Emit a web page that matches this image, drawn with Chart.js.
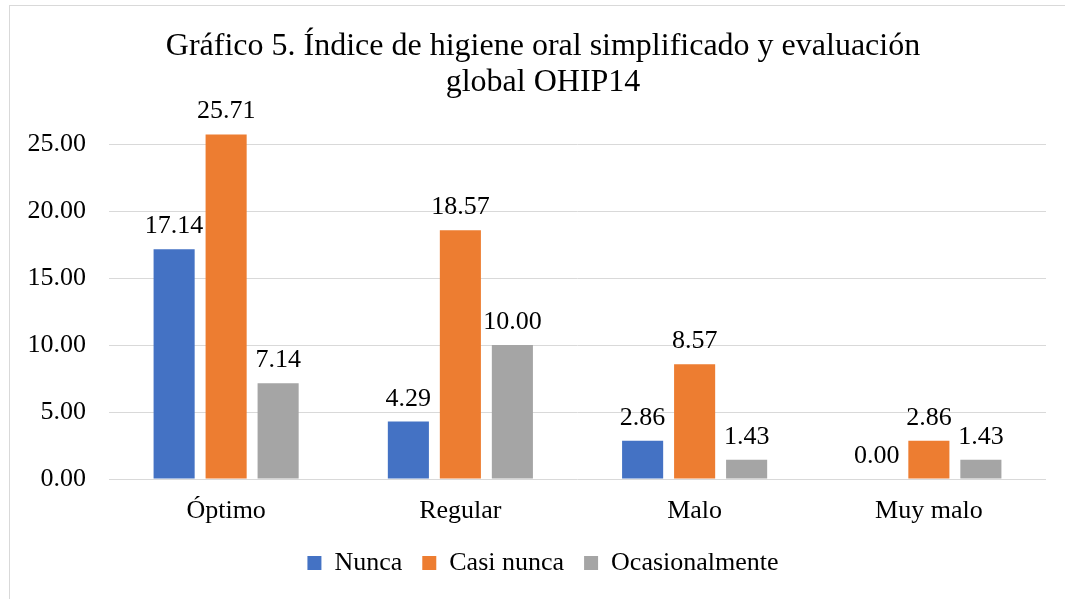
<!DOCTYPE html>
<html>
<head>
<meta charset="utf-8">
<script src="https://cdn.jsdelivr.net/npm/chart.js@4.4.0/dist/chart.umd.min.js"></script>
<style>
  html, body { margin: 0; padding: 0; background: #fff; }
  #wrap { position: relative; width: 1065px; height: 599px; overflow: hidden; }
  #marco { position: absolute; left: 9px; top: 5px; width: 1065px; height: 600px;
           border: 1px solid #d9d9d9; pointer-events: none; }
</style>
</head>
<body>
<div id="wrap">
  <canvas id="grafico5" width="1065" height="599"></canvas>
  <div id="marco"></div>
</div>
<script>
// datos del gráfico
const categorias = ["Óptimo", "Regular", "Malo", "Muy malo"];
const nunca = [17.14, 4.29, 2.86, 0.00];
const casiNunca = [25.71, 18.57, 8.57, 2.86];
const ocasionalmente = [7.14, 10.00, 1.43, 1.43];
const marcasY = [0, 5, 10, 15, 20, 25];

const fuente = "'Liberation Serif', 'Times New Roman', serif";

// etiquetas de valor encima de cada barra
const etiquetas = {
  id: 'etiquetas',
  afterLayout(chart) {
    // que las etiquetas del eje y no se recorten por el margen izquierdo
    chart.scales.y.left = 0;
  },
  afterDatasetsDraw(chart) {
    const ctx = chart.ctx;
    ctx.save();
    ctx.font = '26px ' + fuente;
    ctx.fillStyle = '#000';
    ctx.textAlign = 'center';
    ctx.textBaseline = 'alphabetic';
    chart.data.datasets.forEach((ds, i) => {
      chart.getDatasetMeta(i).data.forEach((bar, j) => {
        ctx.fillText(Number(ds.data[j]).toFixed(2), bar.x, bar.y - 16);
      });
    });
    ctx.restore();
  }
};

new Chart("grafico5", {
  type: "bar",
  data: {
    labels: categorias,
    datasets: [
      { label: "Nunca", data: nunca, backgroundColor: "#4472C4" },
      { label: "Casi nunca", data: casiNunca, backgroundColor: "#ED7D31" },
      { label: "Ocasionalmente", data: ocasionalmente, backgroundColor: "#A5A5A5" }
    ]
  },
  options: {
    responsive: false,
    animation: false,
    categoryPercentage: 0.666,
    barPercentage: 0.79,
    layout: { padding: { left: 40, right: 19, top: 20, bottom: 13 } },
    plugins: {
      title: {
        display: true,
        text: ["Gráfico 5. Índice de higiene oral simplificado y evaluación", "global OHIP14"],
        color: '#000',
        font: { size: 32, family: fuente, weight: 'normal', lineHeight: 1.125 },
        padding: { top: 8.5, bottom: 10 }
      },
      legend: {
        display: true,
        position: "bottom",
        labels: {
          color: '#000',
          boxWidth: 14,
          boxHeight: 14,
          padding: 20,
          font: { size: 26, family: fuente }
        }
      },
      tooltip: { enabled: false }
    },
    scales: {
      x: {
        grid: { display: false },
        border: { display: false },
        ticks: { color: '#000', padding: 9, font: { size: 26, family: fuente } },
        afterFit(scale) { scale.height = 51; }
      },
      y: {
        min: 0,
        max: 27.5,
        border: { display: false },
        grid: { color: '#d9d9d9', drawTicks: false },
        ticks: {
          color: '#000',
          padding: 23,
          font: { size: 26, family: fuente },
          callback: v => Number(v).toFixed(2)
        },
        afterBuildTicks(scale) {
          scale.ticks = marcasY.map(v => ({ value: v }));
        },
        afterFit(scale) { scale.width = 69; }
      }
    }
  },
  plugins: [etiquetas]
});
</script>
</body>
</html>
